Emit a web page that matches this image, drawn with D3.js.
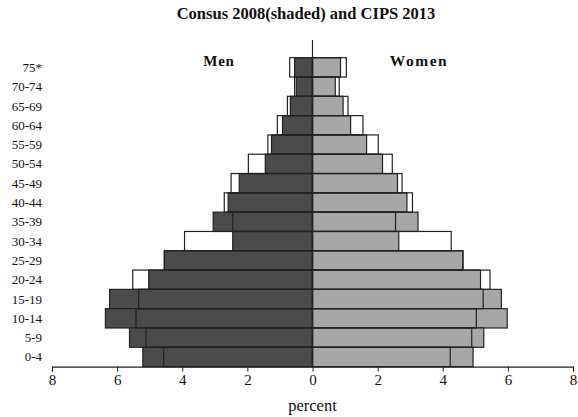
<!DOCTYPE html>
<html>
<head>
<meta charset="utf-8">
<script src="https://cdn.jsdelivr.net/npm/d3@7"></script>
<style>
  body { margin: 0; background: #fff; }
  text { font-family: "Liberation Serif", serif; fill: #111; }
</style>
</head>
<body>
<div id="app"></div>
<script>
const ageGroups = ['75*', '70-74', '65-69', '60-64', '55-59', '50-54', '45-49', '40-44',
  '35-39', '30-34', '25-29', '20-24', '15-19', '10-14', '5-9', '0-4']

// census 2008 (shaded)
const menCensus   = [0.55, 0.5, 0.68, 0.92, 1.26, 1.45, 2.25, 2.59, 3.05, 2.45, 4.55, 5.03, 6.23, 6.36, 5.62, 5.21]
const womenCensus = [0.86, 0.7, 0.94, 1.17, 1.66, 2.15, 2.61, 2.9, 3.24, 2.65, 4.62, 5.16, 5.8, 5.98, 5.26, 4.93]
// CIPS 2013 (outline)
const menCips     = [0.7, 0.55, 0.77, 1.08, 1.37, 1.97, 2.5, 2.71, 2.45, 3.93, 4.55, 5.52, 5.34, 5.42, 5.11, 4.57]
const womenCips   = [1.04, 0.82, 1.09, 1.55, 2.02, 2.45, 2.75, 3.07, 2.55, 4.26, 4.62, 5.45, 5.24, 5.03, 4.89, 4.23]

const tickValues = [-8, -6, -4, -2, 0, 2, 4, 6, 8]

const width = 578, height = 417
const plotLeft = 52, plotRight = 573, plotTop = 57.7, plotBottom = 366.6

const svg = d3.select('#app').append('svg')
    .attr('width', width)
    .attr('height', height)

const x = d3.scaleLinear().domain([-8, 8]).range([plotLeft, plotRight])
const y = d3.scaleBand().domain(ageGroups).range([plotTop, plotBottom]).padding(0)

const rows = ageGroups.map((g, i) => ({
  g, mc: menCensus[i], wc: womenCensus[i], mp: menCips[i], wp: womenCips[i]
}))

// shaded bars first
svg.append('g').selectAll('rect')
  .data(rows)
  .join('rect')
    .attr('x', d => x(-d.mc))
    .attr('y', d => y(d.g))
    .attr('width', d => x(0) - x(-d.mc))
    .attr('height', y.bandwidth())
    .attr('fill', '#4b4b4b')
    .attr('stroke', '#222')
    .attr('stroke-width', 1.2)

svg.append('g').selectAll('rect')
  .data(rows)
  .join('rect')
    .attr('x', x(0))
    .attr('y', d => y(d.g))
    .attr('width', d => x(d.wc) - x(0))
    .attr('height', y.bandwidth())
    .attr('fill', '#a7a7a7')
    .attr('stroke', '#222')
    .attr('stroke-width', 1.2)

// outline bars on top (no fill)
svg.append('g').selectAll('rect')
  .data(rows)
  .join('rect')
    .attr('x', d => x(-d.mp))
    .attr('y', d => y(d.g))
    .attr('width', d => x(0) - x(-d.mp))
    .attr('height', y.bandwidth())
    .attr('fill', 'none')
    .attr('stroke', '#222')
    .attr('stroke-width', 1.2)

svg.append('g').selectAll('rect')
  .data(rows)
  .join('rect')
    .attr('x', x(0))
    .attr('y', d => y(d.g))
    .attr('width', d => x(d.wp) - x(0))
    .attr('height', y.bandwidth())
    .attr('fill', 'none')
    .attr('stroke', '#222')
    .attr('stroke-width', 1.2)

// centre line
svg.append('line')
  .attr('x1', x(0)).attr('x2', x(0))
  .attr('y1', 40).attr('y2', plotBottom)
  .attr('stroke', '#222')
  .attr('stroke-width', 1.2)

// x axis
const xAxis = svg.append('g')
  .attr('transform', `translate(0,${plotBottom})`)
  .call(d3.axisBottom(x).tickValues(tickValues).tickFormat(d => Math.abs(d)).tickSizeOuter(0).tickSize(5))
xAxis.select('.domain').attr('stroke', '#222').attr('stroke-width', 1.2)
xAxis.selectAll('.tick line').attr('stroke', '#222')
xAxis.selectAll('text').attr('font-size', 15).attr('font-family', '"Liberation Serif", serif').attr('fill', '#111')

// y labels
svg.append('g').selectAll('text')
  .data(ageGroups)
  .join('text')
    .attr('x', 42)
    .attr('y', d => y(d) + y.bandwidth() / 2)
    .attr('dy', '0.35em')
    .attr('text-anchor', 'end')
    .attr('font-size', 13)
    .text(d => d)

svg.append('text')
  .attr('x', 306).attr('y', 19)
  .attr('text-anchor', 'middle')
  .attr('font-size', 16.5).attr('font-weight', 'bold')
  .text('Consus 2008(shaded) and CIPS 2013')

svg.append('text')
  .attr('x', 219).attr('y', 66)
  .attr('text-anchor', 'middle')
  .attr('font-size', 15).attr('font-weight', 'bold')
  .attr('letter-spacing', 0.7)
  .text('Men')

svg.append('text')
  .attr('x', 419).attr('y', 66)
  .attr('text-anchor', 'middle')
  .attr('font-size', 15.5).attr('font-weight', 'bold')
  .attr('letter-spacing', 1.5)
  .text('Women')

svg.append('text')
  .attr('x', x(0)).attr('y', 411)
  .attr('text-anchor', 'middle')
  .attr('font-size', 16.5)
  .text('percent')
</script>
</body>
</html>
